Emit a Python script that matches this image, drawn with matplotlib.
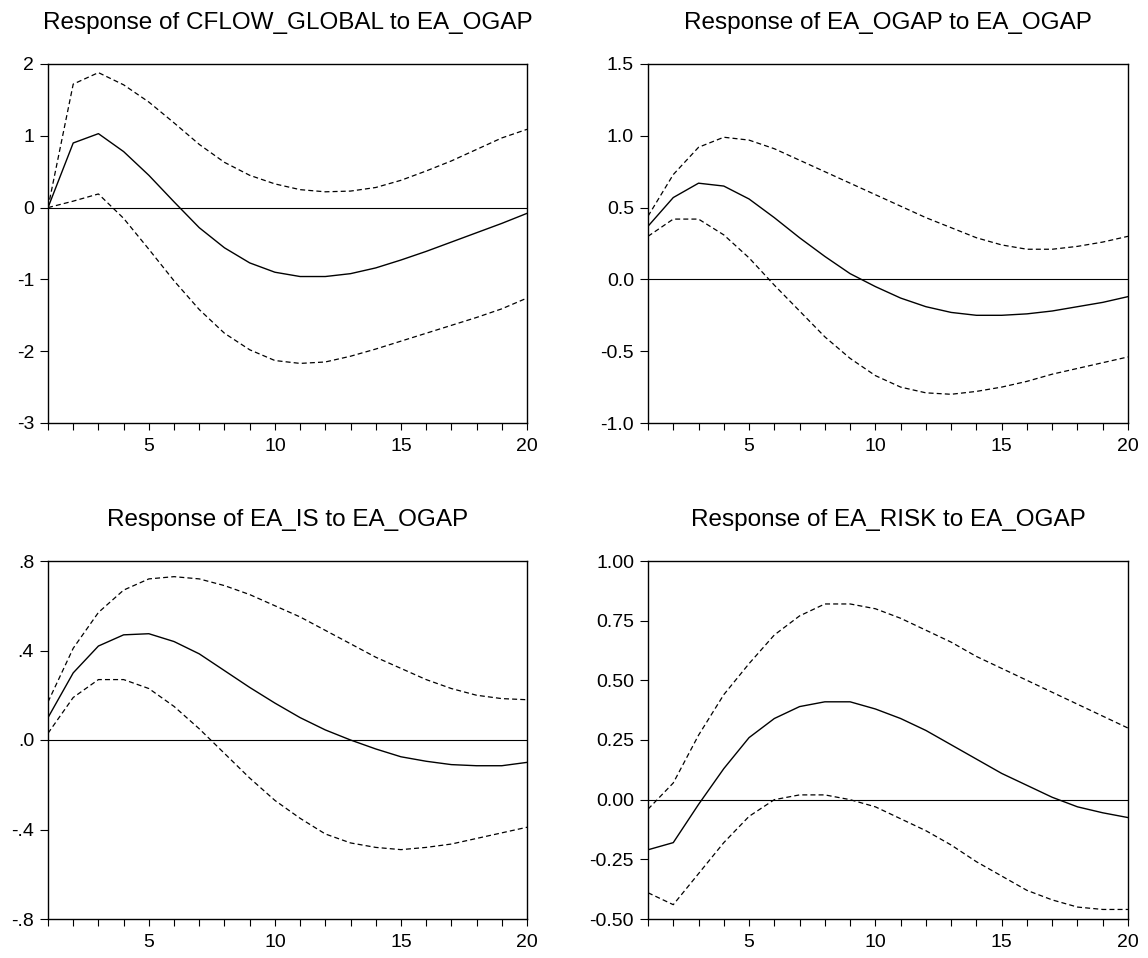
import numpy as np
import matplotlib
matplotlib.use("Agg")
import matplotlib.pyplot as plt
from matplotlib.ticker import FixedLocator, MultipleLocator

plt.rcParams['font.family'] = ['Liberation Sans', 'DejaVu Sans']

# =========================
# DATA
# =========================
periods = np.arange(1, 21)

cflow_resp = [0.0, 0.90, 1.03, 0.78, 0.45, 0.08, -0.28, -0.56, -0.77, -0.90,
              -0.96, -0.96, -0.92, -0.84, -0.73, -0.61, -0.48, -0.35, -0.22, -0.08]
cflow_up = [0.0, 1.72, 1.88, 1.71, 1.47, 1.18, 0.88, 0.63, 0.45, 0.33,
            0.25, 0.22, 0.23, 0.28, 0.38, 0.51, 0.65, 0.81, 0.97, 1.09]
cflow_lo = [0.0, 0.09, 0.19, -0.15, -0.58, -1.02, -1.42, -1.75, -1.98, -2.13,
            -2.17, -2.15, -2.07, -1.97, -1.86, -1.75, -1.64, -1.53, -1.41, -1.26]

ogap_resp = [0.37, 0.57, 0.67, 0.65, 0.56, 0.43, 0.29, 0.16, 0.04, -0.05,
             -0.13, -0.19, -0.23, -0.25, -0.25, -0.24, -0.22, -0.19, -0.16, -0.12]
ogap_up = [0.44, 0.73, 0.92, 0.99, 0.97, 0.91, 0.83, 0.75, 0.67, 0.59,
           0.51, 0.43, 0.36, 0.29, 0.24, 0.21, 0.21, 0.23, 0.26, 0.30]
ogap_lo = [0.30, 0.42, 0.42, 0.31, 0.15, -0.04, -0.22, -0.40, -0.55, -0.67,
           -0.75, -0.79, -0.80, -0.78, -0.75, -0.71, -0.66, -0.62, -0.58, -0.54]

is_resp = [0.10, 0.30, 0.42, 0.47, 0.475, 0.44, 0.385, 0.31, 0.235, 0.165,
           0.10, 0.045, 0.00, -0.04, -0.075, -0.095, -0.11, -0.115, -0.115, -0.10]
is_up = [0.17, 0.41, 0.57, 0.67, 0.72, 0.73, 0.72, 0.69, 0.65, 0.60,
         0.55, 0.49, 0.43, 0.37, 0.32, 0.27, 0.23, 0.20, 0.185, 0.18]
is_lo = [0.03, 0.19, 0.27, 0.27, 0.23, 0.15, 0.05, -0.06, -0.17, -0.27,
         -0.35, -0.42, -0.46, -0.48, -0.49, -0.48, -0.465, -0.44, -0.415, -0.39]

risk_resp = [-0.21, -0.18, -0.02, 0.13, 0.26, 0.34, 0.39, 0.41, 0.41, 0.38,
             0.34, 0.29, 0.23, 0.17, 0.11, 0.06, 0.01, -0.03, -0.055, -0.075]
risk_up = [-0.04, 0.07, 0.27, 0.44, 0.57, 0.69, 0.77, 0.82, 0.82, 0.80,
           0.76, 0.71, 0.66, 0.60, 0.55, 0.50, 0.45, 0.40, 0.35, 0.30]
risk_lo = [-0.39, -0.44, -0.31, -0.18, -0.07, 0.00, 0.02, 0.02, 0.00, -0.03,
           -0.08, -0.13, -0.19, -0.26, -0.32, -0.38, -0.42, -0.45, -0.46, -0.46]

titles = ["Response of CFLOW_GLOBAL to EA_OGAP",
          "Response of EA_OGAP to EA_OGAP",
          "Response of EA_IS to EA_OGAP",
          "Response of EA_RISK to EA_OGAP"]

yticks = [[-3, -2, -1, 0, 1, 2],
          [-1.0, -0.5, 0.0, 0.5, 1.0, 1.5],
          [-0.8, -0.4, 0.0, 0.4, 0.8],
          [-0.50, -0.25, 0.00, 0.25, 0.50, 0.75, 1.00]]
yticklabels = [["-3", "-2", "-1", "0", "1", "2"],
               ["-1.0", "-0.5", "0.0", "0.5", "1.0", "1.5"],
               ["-.8", "-.4", ".0", ".4", ".8"],
               ["-0.50", "-0.25", "0.00", "0.25", "0.50", "0.75", "1.00"]]

series = [(cflow_resp, cflow_up, cflow_lo),
          (ogap_resp, ogap_up, ogap_lo),
          (is_resp, is_up, is_lo),
          (risk_resp, risk_up, risk_lo)]

# =========================
# LAYOUT (pixel boxes -> figure fractions)
# =========================
W, H = 1148, 958
boxes = [(48, 64, 527, 423), (648, 64, 1128, 423),
         (48, 561, 527, 919), (648, 561, 1128, 919)]

fig = plt.figure(figsize=(W / 100, H / 100), dpi=100)

for i, (x0, y0, x1, y1) in enumerate(boxes):
    ax = fig.add_axes([x0 / W, 1 - y1 / H, (x1 - x0) / W, (y1 - y0) / H])
    resp, up, lo = series[i]
    ax.axhline(0, color="black", lw=0.8)
    ax.plot(periods, up, color="black", lw=0.9, ls=(0, (4, 2.5)))
    ax.plot(periods, lo, color="black", lw=0.9, ls=(0, (4, 2.5)))
    ax.plot(periods, resp, color="black", lw=1.0)

    ax.set_xlim(1, 20)
    ax.set_ylim(yticks[i][0], yticks[i][-1])
    ax.xaxis.set_major_locator(FixedLocator([5, 10, 15, 20]))
    ax.xaxis.set_minor_locator(MultipleLocator(1))
    ax.set_yticks(yticks[i])
    ax.set_yticklabels(yticklabels[i])
    ax.tick_params(axis="y", direction="out", length=6, width=0.8,
                   labelsize=14, pad=4)
    ax.tick_params(axis="x", which="both", direction="out", length=5,
                   width=0.8, labelsize=14, pad=6)
    for s in ax.spines.values():
        s.set_linewidth(1.0)
    ax.set_title(titles[i], fontsize=17.5, pad=25)

fig.savefig("out.png", dpi=100)
